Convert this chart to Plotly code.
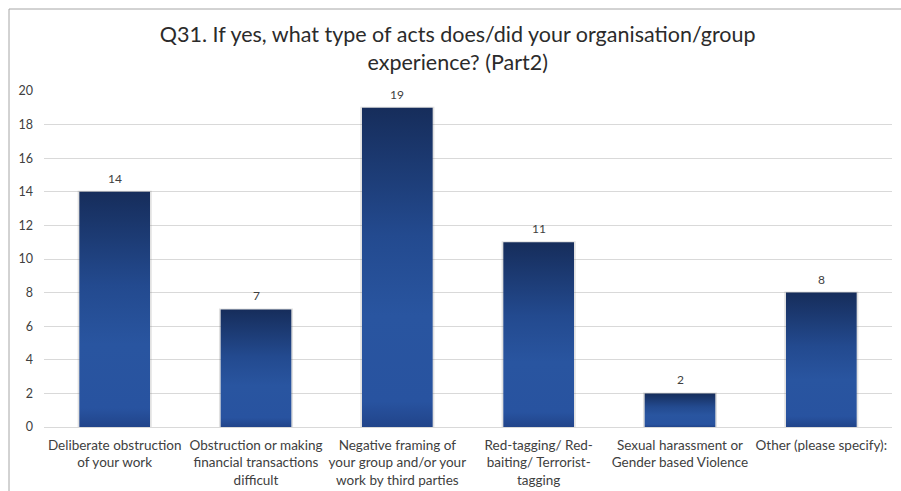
import plotly.graph_objects as go

# Survey responses, Q31 part 2
categories = [
    "Deliberate obstruction<br>of your work",
    "Obstruction or making<br>financial transactions<br>difficult",
    "Negative framing of<br>your group and/or your<br>work by third parties",
    "Red-tagging/ Red-<br>baiting/ Terrorist-<br>tagging",
    "Sexual harassment or<br>Gender based Violence",
    "Other (please specify):",
]
counts = [14, 7, 19, 11, 2, 8]
y_ticks = list(range(0, 21, 2))

title_text = "Q31. If yes, what type of acts does/did your organisation/group<br>experience? (Part2)"

FONT = "Lato, 'Open Sans', Arial, sans-serif"
TEXT = "#404040"
BAR_HALF = 0.25

# vertical gradient: bottom (0) -> top (1)
bar_scale = [
    [0.0, "#21448a"],
    [0.08, "#2853a0"],
    [0.35, "#2955a0"],
    [0.6, "#234a8f"],
    [1.0, "#162d5b"],
]

fig = go.Figure()

for i, v in enumerate(counts):
    x0, x1 = i - BAR_HALF, i + BAR_HALF
    # faint shadow around each bar
    fig.add_trace(go.Scatter(
        x=[x0 - 0.012, x1 + 0.012, x1 + 0.012, x0 - 0.012, x0 - 0.012],
        y=[0, 0, v + 0.06, v + 0.06, 0],
        fill="toself", fillcolor="rgba(120,120,120,0.22)",
        line=dict(width=0), mode="lines", hoverinfo="skip", showlegend=False,
    ))
    fig.add_trace(go.Scatter(
        x=[x0, x1, x1, x0, x0],
        y=[0, 0, v, v, 0],
        fill="toself",
        fillgradient=dict(type="vertical", colorscale=bar_scale, start=0, stop=v),
        line=dict(width=0), mode="lines", hoverinfo="skip", showlegend=False,
    ))

# value labels above the bars
for i, v in enumerate(counts):
    fig.add_annotation(
        x=i, y=v, text=str(v), showarrow=False, yanchor="bottom", yshift=4,
        font=dict(family=FONT, size=12, color=TEXT),
    )

fig.update_layout(
    width=901, height=491,
    margin=dict(l=44, r=9, t=91, b=64),
    paper_bgcolor="white", plot_bgcolor="white",
    font=dict(family=FONT, color=TEXT),
    title=dict(
        text=title_text, x=0.508, xanchor="center", y=0.915, yanchor="middle",
        font=dict(family=FONT, size=21.5, color="#2b2b2b"),
        automargin=False,
    ),
    xaxis=dict(
        range=[-0.5, len(counts) - 0.5],
        tickmode="array", tickvals=list(range(len(counts))), ticktext=categories,
        showgrid=False, zeroline=False, showline=False, ticks="",
        tickangle=0, automargin=False, ticklabelstandoff=8,
        tickfont=dict(family=FONT, size=13.5, color=TEXT),
        fixedrange=True,
    ),
    yaxis=dict(
        range=[0, 20], tickmode="array", tickvals=y_ticks,
        showgrid=True, gridcolor="#d9d9d9", gridwidth=1,
        zeroline=True, zerolinecolor="#d9d9d9", zerolinewidth=1,
        showline=False, ticks="", ticklabelstandoff=10, automargin=False,
        tickfont=dict(family=FONT, size=12.5, color=TEXT),
        fixedrange=True,
    ),
    shapes=[
        dict(type="line", xref="paper", yref="paper",
             x0=-35 / 848, x1=1.02, y0=1 + 82 / 336, y1=1 + 82 / 336,
             line=dict(color="#a6a6a6", width=1)),
        dict(type="line", xref="paper", yref="paper",
             x0=-35 / 848, x1=-35 / 848, y0=1 + 82 / 336, y1=-0.25,
             line=dict(color="#a6a6a6", width=1)),
    ],
)

fig.write_html("out.html")
